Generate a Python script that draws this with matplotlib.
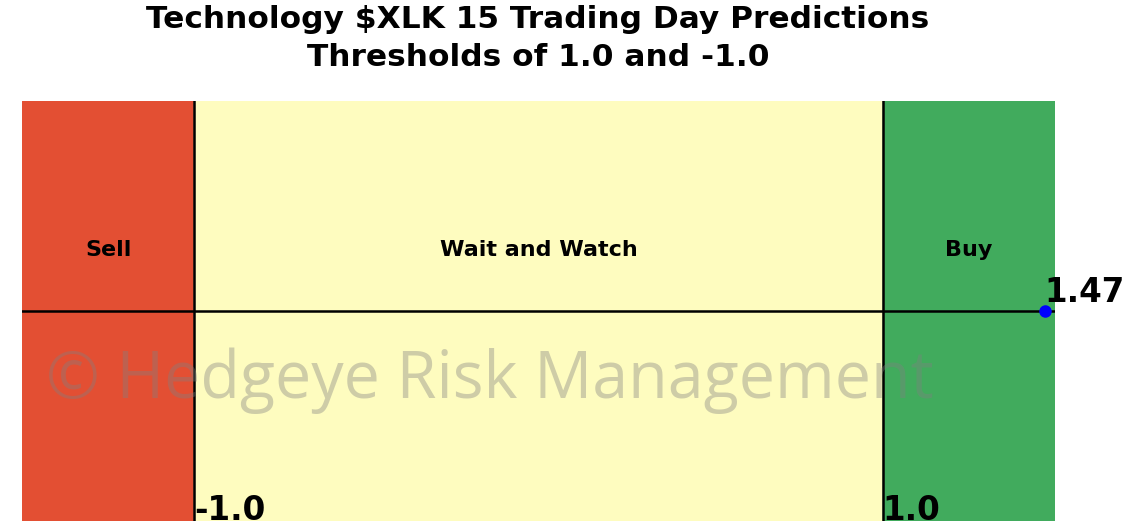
import matplotlib
matplotlib.use("Agg")
import matplotlib.pyplot as plt

# Data
zone_names = ["Sell", "Wait and Watch", "Buy"]
zone_bounds = [(-1.5, -1.0), (-1.0, 1.0), (1.0, 1.5)]
zone_colors = ["#e34f33", "#fefcbf", "#41ab5d"]
thresholds = [-1.0, 1.0]
threshold_labels = ["-1.0", "1.0"]
prediction = 1.47
prediction_label = "1.47"

fig = plt.figure(figsize=(11.42, 5.31), dpi=100)
ax = fig.add_axes([22/1142, 10/531, (1055-22)/1142, (521-101)/531])
ax.set_xlim(-1.5, 1.5)
ax.set_ylim(-1, 1)

for (lo, hi), c, name in zip(zone_bounds, zone_colors, zone_names):
    ax.axvspan(lo, hi, color=c, zorder=0)
    ax.text((lo + hi) / 2, 0.29, name, ha="center", va="center",
            fontsize=16, fontweight="bold")

for t, lab in zip(thresholds, threshold_labels):
    ax.axvline(t, color="black", lw=1.8, zorder=2)
    ax.text(t, -1.03, lab, ha="left", va="bottom", fontsize=23.5,
            fontweight="bold", zorder=3)

ax.axhline(0, color="black", lw=1.8, zorder=2)
ax.plot([prediction], [0], "o", color="blue", ms=8, zorder=4, clip_on=False)
ax.text(prediction, 0.01, prediction_label, ha="left", va="bottom",
        fontsize=23.5, fontweight="bold", clip_on=False, zorder=5)

ax.text(0.453, 0.335, "\u00a9 Hedgeye Risk Management", transform=ax.transAxes,
        ha="center", va="center", fontsize=46.5, color="grey", alpha=0.38,
        family=["Open Sans", "DejaVu Sans"], zorder=6)

for s in ax.spines.values():
    s.set_visible(False)
ax.set_xticks([])
ax.set_yticks([])

fig.suptitle("Technology $XLK 15 Trading Day Predictions\nThresholds of 1.0 and -1.0",
             x=538/1142, y=1 - 5/531, fontsize=22.5, fontweight="bold", va="top",
             linespacing=1.4)

fig.savefig("out.png", dpi=100)
